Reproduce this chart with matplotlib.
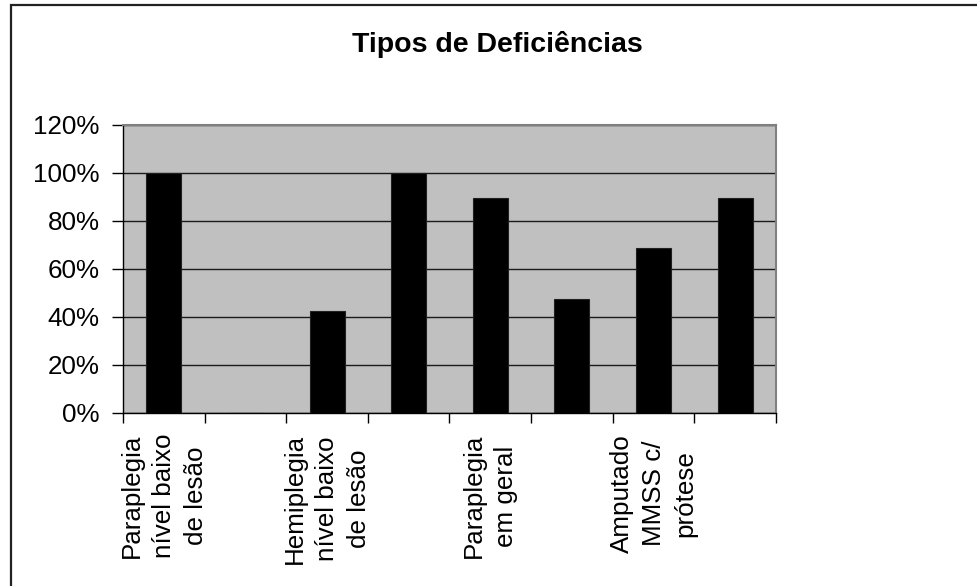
import matplotlib
matplotlib.use("Agg")
import matplotlib.pyplot as plt
from matplotlib.patches import Rectangle
from matplotlib.ticker import FixedLocator, FuncFormatter

categories = [
    "Paraplegia\nnível baixo\nde lesão",
    "",
    "Hemiplegia\nnível baixo\nde lesão",
    "",
    "Paraplegia\nem geral",
    "",
    "Amputado\nMMSS c/\nprótese",
    "",
]
values = [1.00, 0.00, 0.426, 1.00, 0.894, 0.475, 0.686, 0.894]
yticks = [0.0, 0.2, 0.4, 0.6, 0.8, 1.0, 1.2]
title = "Tipos de Deficiências"

plt.rcParams['font.family'] = ['Liberation Sans', 'DejaVu Sans']

W, H = 978, 586
fig = plt.figure(figsize=(W / 100, H / 100), dpi=100)
fig.patch.set_facecolor("white")

L, R, B, T = 123, 776, 413, 125
ax = fig.add_axes([L / W, 1 - B / H, (R - L) / W, (B - T) / H])
ax.set_facecolor("#C0C0C0")

x = list(range(len(categories)))
ax.bar(x, values, width=0.43, color="black", edgecolor="#202020", linewidth=0.8, zorder=3)

ax.set_xlim(-0.5, len(categories) - 0.5)
ax.set_ylim(0, 1.2)

ax.set_yticks(yticks)
ax.yaxis.set_major_formatter(FuncFormatter(lambda v, p: f"{v*100:.0f}%"))
ax.yaxis.grid(True, color="#1a1a1a", linewidth=1.0, zorder=1)
ax.set_axisbelow(True)

ax.set_xticks(x)
ax.set_xticklabels(categories, rotation=90, fontsize=18.7, multialignment="center",
                   linespacing=1.42)
ax.tick_params(axis="x", which="major", length=0, pad=15)
ax.xaxis.set_minor_locator(FixedLocator([i - 0.5 for i in range(len(categories) + 1)]))
ax.tick_params(axis="x", which="minor", length=7, width=1, color="black", direction="out")
ax.tick_params(axis="y", which="major", length=8, width=1, color="black", direction="out",
               labelsize=18.7, pad=9)

for s in ["left", "bottom"]:
    ax.spines[s].set_color("black")
    ax.spines[s].set_linewidth(1.0)
for s in ["top", "right"]:
    ax.spines[s].set_color("#808080")
    ax.spines[s].set_linewidth(1.5)

fig.text(497.5 / W, 1 - 52 / H, title, ha="center", va="baseline",
         fontsize=20.5, fontweight="bold")

fig.patches.append(Rectangle((11 / W, -0.2), 1.2, 1.2 - 5 / H + 0.0, transform=fig.transFigure,
                             fill=False, edgecolor="#222222", linewidth=1.6, clip_on=False))

fig.savefig("out.png", dpi=100, facecolor="white")
